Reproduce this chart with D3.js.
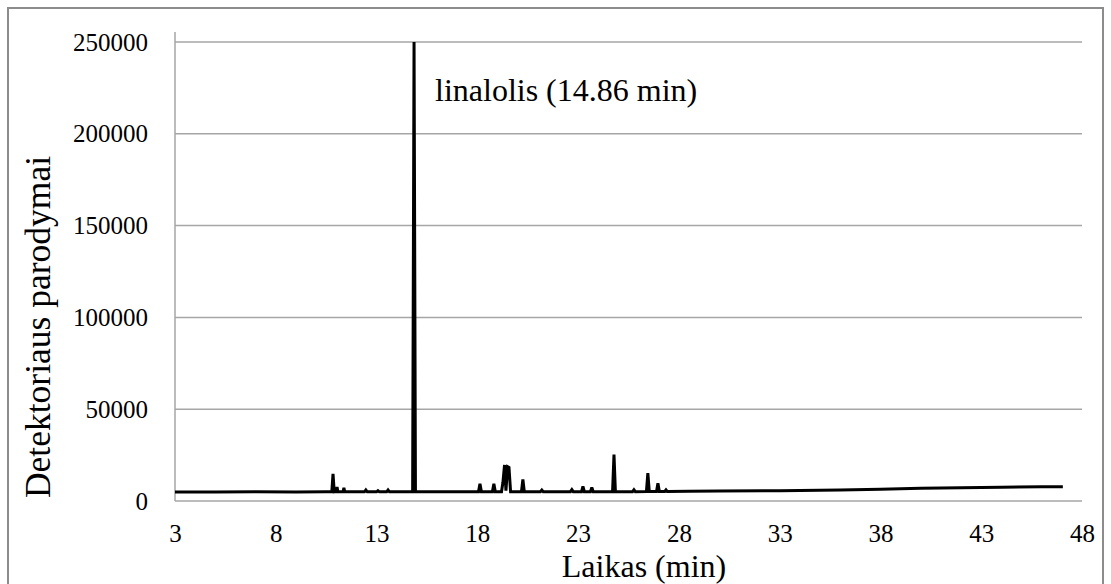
<!DOCTYPE html>
<html>
<head>
<meta charset="utf-8">
<script src="https://cdn.jsdelivr.net/npm/d3@7"></script>
<style>
  html, body { margin: 0; padding: 0; background: #fff; }
  svg { display: block; }
  text { font-family: "Liberation Serif", "Times New Roman", serif; fill: #000; }
</style>
</head>
<body>
<svg id="chart" width="1111" height="584"></svg>
<script>
// Chromatogram: retention time (min) vs detector response
const timeMin = [
  3.0, 5.0, 7.0, 9.0, 10.5,
  10.78, 10.84, 10.9, 11.0, 11.04, 11.08, 11.34, 11.38, 11.42,
  12.4, 12.47, 12.54, 13.0, 13.07, 13.14, 13.5, 13.57, 13.64,
  14.79, 14.86, 14.93,
  16.0, 17.0,
  18.06, 18.13, 18.2, 18.75, 18.82, 18.89,
  19.2, 19.27, 19.35, 19.42, 19.5, 19.57, 19.65,
  20.19, 20.26, 20.33,
  21.13, 21.2, 21.27, 22.62, 22.69, 22.76,
  23.17, 23.24, 23.31, 23.61, 23.68, 23.75,
  24.71, 24.78, 24.85,
  25.7, 25.77, 25.84,
  26.39, 26.46, 26.53, 26.89, 26.96, 27.03, 27.3, 27.36, 27.42,
  28.5, 30.0, 33.0, 36.0, 38.0, 40.0, 42.0, 44.0, 46.0, 47.05
];
const response = [
  4900, 4900, 5000, 4900, 5000,
  5000, 14800, 5000, 5100, 7600, 5000, 5000, 7200, 5000,
  5000, 6000, 5000, 5000, 5600, 5000, 5000, 6000, 5000,
  5000, 250000, 5000,
  5100, 5100,
  5100, 9400, 5100, 5100, 9400, 5100,
  5100, 10200, 19600, 5600, 18700, 18300, 5100,
  5100, 11800, 5100,
  5100, 6000, 5100, 5100, 6200, 5100,
  5100, 7900, 5100, 5100, 7400, 5100,
  5100, 25300, 5100,
  5100, 6100, 5100,
  5200, 15200, 5200, 5200, 9600, 5200, 5200, 6000, 5200,
  5300, 5400, 5600, 6000, 6400, 6900, 7200, 7500, 7700, 7800
];
const xTicks = [3, 8, 13, 18, 23, 28, 33, 38, 43, 48];
const yTicks = [0, 50000, 100000, 150000, 200000, 250000];
const peakLabel = "linalolis (14.86 min)";
const xTitle = "Laikas (min)";
const yTitle = "Detektoriaus parodymai";

const serif = '"Liberation Serif", "Times New Roman", serif';
const svg = d3.select("#chart");
const plot = { left: 175, right: 1082, top: 42, bottom: 501 };

const x = d3.scaleLinear().domain([3, 48]).range([plot.left, plot.right]);
const y = d3.scaleLinear().domain([0, 250000]).range([plot.bottom, plot.top]);

// outer frame
svg.append("rect")
  .attr("x", 8).attr("y", 8)
  .attr("width", 1095).attr("height", 600)
  .attr("fill", "none").attr("stroke", "#8c8c8c").attr("stroke-width", 2);

// horizontal gridlines
svg.append("g")
  .selectAll("line")
  .data(yTicks)
  .join("line")
  .attr("x1", plot.left).attr("x2", plot.right)
  .attr("y1", d => y(d)).attr("y2", d => y(d))
  .attr("stroke", "#a6a6a6").attr("stroke-width", 1.5);

// vertical axis line
svg.append("line")
  .attr("x1", plot.left).attr("x2", plot.left)
  .attr("y1", plot.top - 10).attr("y2", plot.bottom)
  .attr("stroke", "#a6a6a6").attr("stroke-width", 1.5);

// y tick labels
const yAxis = d3.axisLeft(y).tickValues(yTicks).tickFormat(d3.format("d")).tickSize(0).tickPadding(27);
const gy = svg.append("g").attr("transform", `translate(${plot.left},0)`).call(yAxis)
  .attr("font-family", serif).attr("font-size", 25);
gy.select(".domain").remove();
gy.selectAll("text").attr("fill", "#000").attr("font-family", serif);

// x tick labels
const xAxis = d3.axisBottom(x).tickValues(xTicks).tickFormat(d3.format("d")).tickSize(0).tickPadding(23);
const gx = svg.append("g").attr("transform", `translate(0,${plot.bottom})`).call(xAxis)
  .attr("font-family", serif).attr("font-size", 25);
gx.select(".domain").remove();
gx.selectAll("text").attr("fill", "#000").attr("font-family", serif);

// chromatogram trace
const line = d3.line()
  .x((d, i) => x(timeMin[i]))
  .y(d => y(d));
svg.append("path")
  .datum(response)
  .attr("d", line)
  .attr("fill", "none")
  .attr("stroke", "#000")
  .attr("stroke-width", 3)
  .attr("stroke-linejoin", "miter")
  .attr("stroke-miterlimit", 2);

// peak annotation
svg.append("text")
  .attr("x", 435).attr("y", 101)
  .attr("font-size", 32)
  .text(peakLabel);

// axis titles
svg.append("text")
  .attr("x", 644).attr("y", 577)
  .attr("text-anchor", "middle")
  .attr("font-size", 32)
  .text(xTitle);

svg.append("text")
  .attr("transform", "translate(50,327) rotate(-90)")
  .attr("text-anchor", "middle")
  .attr("font-size", 35.5)
  .text(yTitle);
</script>
</body>
</html>
